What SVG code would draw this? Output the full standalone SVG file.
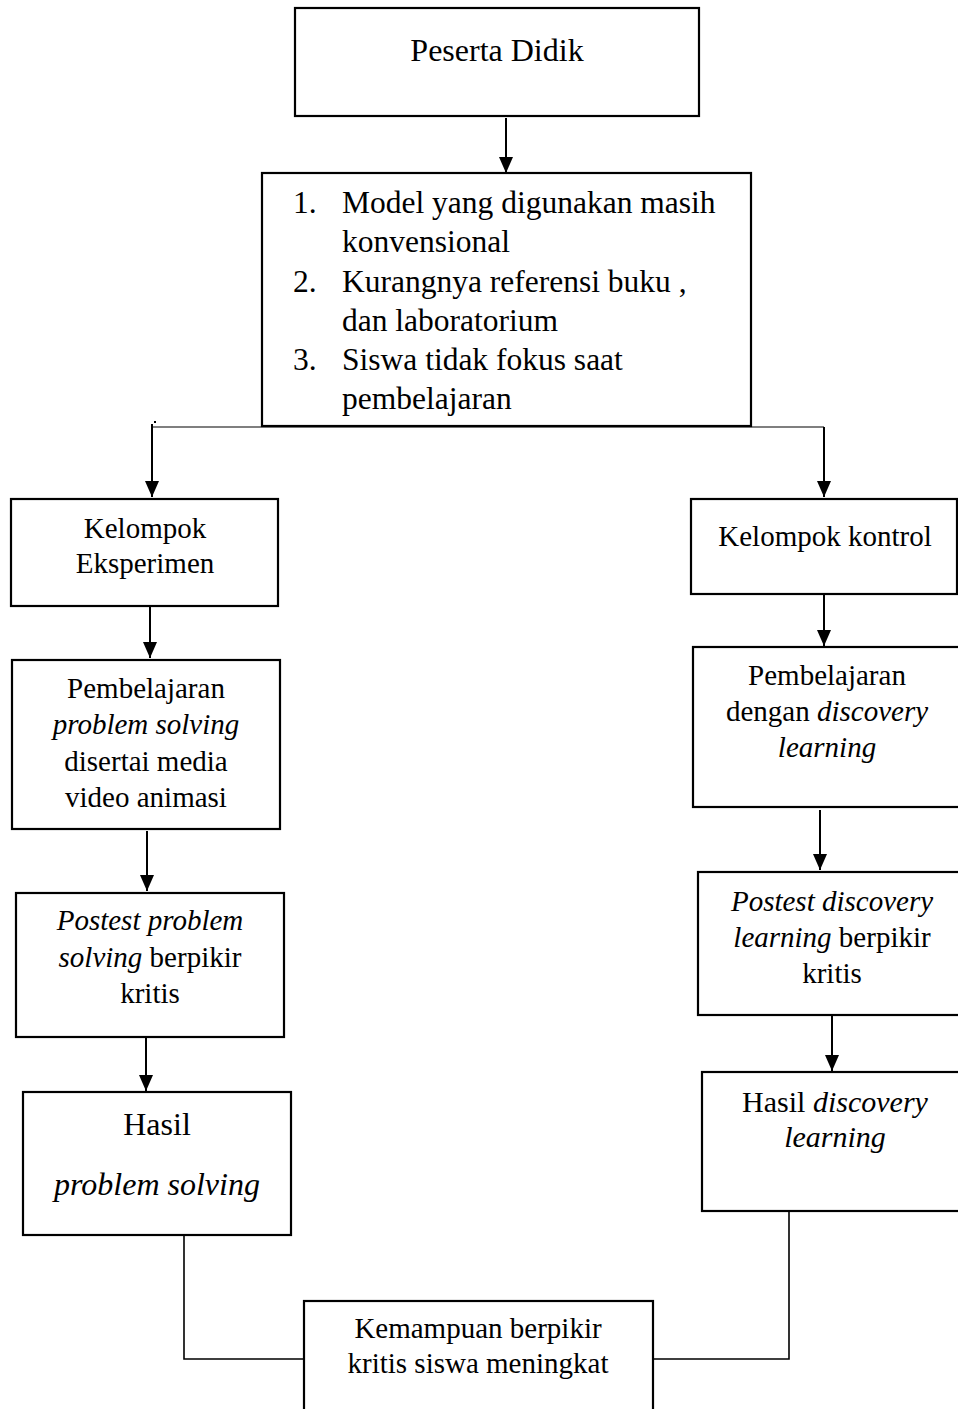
<svg xmlns="http://www.w3.org/2000/svg" width="958" height="1409" viewBox="0 0 958 1409">
<style>
.box{fill:#fff;stroke:#000;stroke-width:2.2}
.t{font-family:"Liberation Serif","Times New Roman",serif;font-size:29px;fill:#000;text-anchor:middle}
.tl{font-family:"Liberation Serif","Times New Roman",serif;font-size:31.5px;fill:#000}
.i{font-style:italic}
.c{fill:none;stroke:#000;stroke-width:2}
.thin{fill:none;stroke:#000;stroke-width:1.2}
</style>
<defs>
<marker id="ah" markerUnits="userSpaceOnUse" markerWidth="16" markerHeight="14" refX="16" refY="7" orient="auto" viewBox="0 0 16 14">
<path d="M0,0 L16,7 L0,14 z" fill="#000"/>
</marker>
</defs>
<rect width="958" height="1409" fill="#fff"/>
<g id="connectors">
<line class="c" x1="506" y1="118" x2="506" y2="173" marker-end="url(#ah)"/>
<line class="thin" x1="153" y1="427" x2="824" y2="427"/>
<rect x="154" y="421" width="2" height="2" fill="#000"/>
<line class="c" x1="152" y1="424" x2="152" y2="497" marker-end="url(#ah)"/>
<line class="c" x1="824" y1="427" x2="824" y2="497" marker-end="url(#ah)"/>
<line class="c" x1="150" y1="607" x2="150" y2="658" marker-end="url(#ah)"/>
<line class="c" x1="824" y1="595" x2="824" y2="646" marker-end="url(#ah)"/>
<line class="c" x1="147" y1="831" x2="147" y2="891" marker-end="url(#ah)"/>
<line class="c" x1="820" y1="810" x2="820" y2="870" marker-end="url(#ah)"/>
<line class="c" x1="146" y1="1038" x2="146" y2="1091" marker-end="url(#ah)"/>
<line class="c" x1="832" y1="1016" x2="832" y2="1071" marker-end="url(#ah)"/>
<polyline class="thin" style="stroke-width:1.6" points="184,1236 184,1359 304,1359"/>
<polyline class="thin" style="stroke-width:1.6" points="653,1359 789,1359 789,1211"/>
<line class="c" style="stroke-width:2.6" x1="789" y1="1210" x2="925" y2="1210"/>
</g>
<g id="peserta-didik">
<rect class="box" x="295" y="8" width="404" height="108"/>
<text class="t" style="font-size:32px" x="497" y="61">Peserta Didik</text>
</g>
<g id="masalah">
<rect class="box" x="262" y="173" width="489" height="253"/>
<text class="tl" x="293" y="213">1.</text>
<text class="tl" x="342" y="213">Model yang digunakan masih</text>
<text class="tl" x="342" y="252">konvensional</text>
<text class="tl" x="293" y="292">2.</text>
<text class="tl" x="342" y="292">Kurangnya referensi buku ,</text>
<text class="tl" x="342" y="331">dan laboratorium</text>
<text class="tl" x="293" y="370">3.</text>
<text class="tl" x="342" y="370">Siswa tidak fokus saat</text>
<text class="tl" x="342" y="409">pembelajaran</text>
</g>
<g id="kelompok-eksperimen">
<rect class="box" x="11" y="499" width="267" height="107"/>
<text class="t" x="145" y="538">Kelompok</text>
<text class="t" x="145" y="573">Eksperimen</text>
</g>
<g id="kelompok-kontrol">
<rect class="box" x="691" y="499" width="266" height="95"/>
<text class="t" x="825" y="546">Kelompok kontrol</text>
</g>
<g id="pembelajaran-ps">
<rect class="box" x="12" y="660" width="268" height="169"/>
<text class="t" x="146" y="698">Pembelajaran</text>
<text class="t i" x="146" y="734">problem solving</text>
<text class="t" x="146" y="771">disertai media</text>
<text class="t" x="146" y="807">video animasi</text>
</g>
<g id="pembelajaran-dl">
<rect class="box" x="693" y="647" width="280" height="160"/>
<text class="t" x="827" y="685">Pembelajaran</text>
<text class="t" x="827" y="721">dengan <tspan class="i">discovery</tspan></text>
<text class="t i" x="827" y="757">learning</text>
</g>
<g id="postest-ps">
<rect class="box" x="16" y="893" width="268" height="144"/>
<text class="t" x="150" y="930"><tspan class="i">Postest problem</tspan></text>
<text class="t" x="150" y="967"><tspan class="i">solving</tspan> berpikir</text>
<text class="t" x="150" y="1003">kritis</text>
</g>
<g id="postest-dl">
<rect class="box" x="698" y="872" width="280" height="143"/>
<text class="t" x="832" y="911"><tspan class="i">Postest discovery</tspan></text>
<text class="t" x="832" y="947"><tspan class="i">learning</tspan> berpikir</text>
<text class="t" x="832" y="983">kritis</text>
</g>
<g id="hasil-ps">
<rect class="box" x="23" y="1092" width="268" height="143"/>
<text class="t" style="font-size:32px" x="157" y="1135">Hasil</text>
<text class="t i" style="font-size:32px" x="157" y="1195">problem solving</text>
</g>
<g id="hasil-dl">
<rect class="box" x="702" y="1072" width="280" height="139"/>
<text class="t" style="font-size:30px" x="835" y="1112">Hasil <tspan class="i">discovery</tspan></text>
<text class="t i" style="font-size:30px" x="835" y="1147">learning</text>
</g>
<g id="kemampuan">
<rect class="box" x="304" y="1301" width="349" height="140"/>
<text class="t" x="478" y="1338">Kemampuan berpikir</text>
<text class="t" x="478" y="1373">kritis siswa meningkat</text>
</g>
</svg>
